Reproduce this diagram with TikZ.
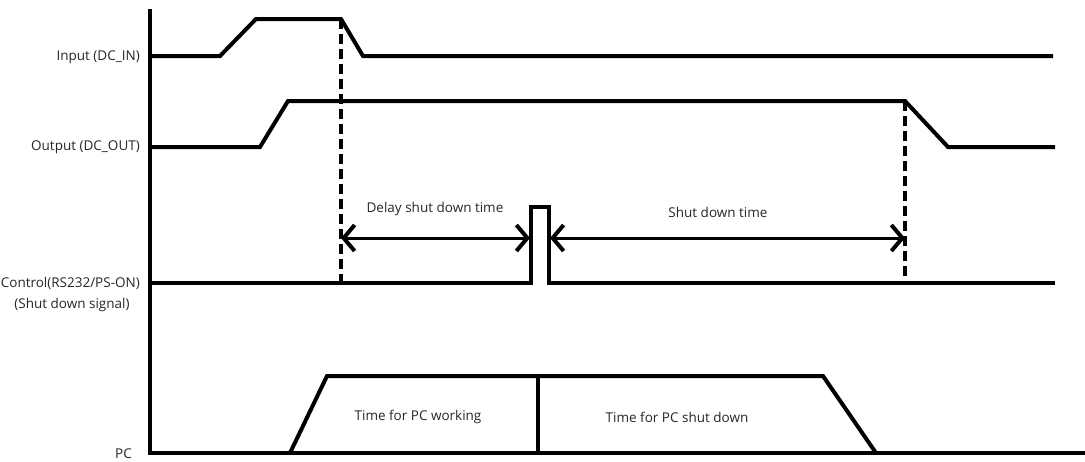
\documentclass[tikz,border=0pt]{standalone}
\usepackage{fontspec}
\setmainfont{Open Sans}
\usetikzlibrary{arrows.meta}
\begin{document}
\begin{tikzpicture}[x=1pt,y=-1pt,
  sig/.style={line width=4pt,line join=miter},
  guide/.style={line width=4pt,dash pattern=on 10pt off 5pt},
  span/.style={line width=3pt,{Straight Barb[length=11pt,width=26pt,line width=4pt]}-{Straight Barb[length=11pt,width=26pt,line width=4pt]}},
  lbl/.style={font=\fontsize{13.5}{16}\selectfont,text=black!85,inner sep=0pt},
]
\useasboundingbox (0,0) rectangle (1085,461);
% axes
\coordinate (ytop) at (150,9);
\coordinate (orig) at (150,453);
\coordinate (xend) at (1085,453);
\draw[sig] (ytop) -- (orig) -- (xend);
% labels
\node[lbl,anchor=east] (lin) at (140,57) {Input (DC\_IN)};
\node[lbl,anchor=east] (lout) at (140,147) {Output (DC\_OUT)};
\node[lbl,anchor=east] (lctl) at (140,283) {Control(RS232/PS-ON)};
\node[lbl] (lsig) at (72,305) {(Shut down signal)};
\node[lbl,anchor=east] (lpc) at (132,454) {PC};
% input
\coordinate (i0) at (150,56);
\coordinate (i1) at (220,56);
\coordinate (i2) at (256,19);
\coordinate (i3) at (341,19);
\coordinate (i4) at (363,56);
\coordinate (i5) at (1053,56);
\draw[sig] (i0) -- (i1) -- (i2) -- (i3) -- (i4) -- (i5);
% output
\coordinate (o0) at (150,147);
\coordinate (o1) at (260,147);
\coordinate (o2) at (288,101);
\coordinate (o3) at (905,101);
\coordinate (o4) at (948,147);
\coordinate (o5) at (1055,147);
\draw[sig] (o0) -- (o1) -- (o2) -- (o3) -- (o4) -- (o5);
% control
\coordinate (c0) at (150,283);
\coordinate (c1) at (531,283);
\coordinate (c2) at (531,207);
\coordinate (c3) at (549,207);
\coordinate (c4) at (549,283);
\coordinate (c5) at (1055,283);
\draw[sig] (c0) -- (c1) -- (c2) -- (c3) -- (c4) -- (c5);
% dashed guides
\coordinate (d1b) at (341,283);
\coordinate (d2b) at (905,283);
\draw[guide] (i3) -- (d1b);
\draw[guide] (o3) -- (d2b);
% spans
\coordinate (a1) at (341,238);
\coordinate (a2) at (530,238);
\coordinate (a3) at (550,238);
\coordinate (a4) at (905,238);
\draw[span] (a1) -- (a2);
\draw[span] (a3) -- (a4);
\node[lbl] (tdelay) at (435,209) {Delay shut down time};
\node[lbl] (tshut) at (718,212) {Shut down time};
% PC
\coordinate (p0) at (290,453);
\coordinate (p1) at (327,376);
\coordinate (p2) at (823,376);
\coordinate (p3) at (876,453);
\coordinate (pm) at (538,376);
\coordinate (pmb) at (538,453);
\draw[sig] (p0) -- (p1) -- (p2) -- (p3);
\draw[sig] (pm) -- (pmb);
\node[lbl] (twork) at (418,417) {Time for PC working};
\node[lbl] (tpcsd) at (677,417) {Time for PC shut down};
\end{tikzpicture}
\end{document}
